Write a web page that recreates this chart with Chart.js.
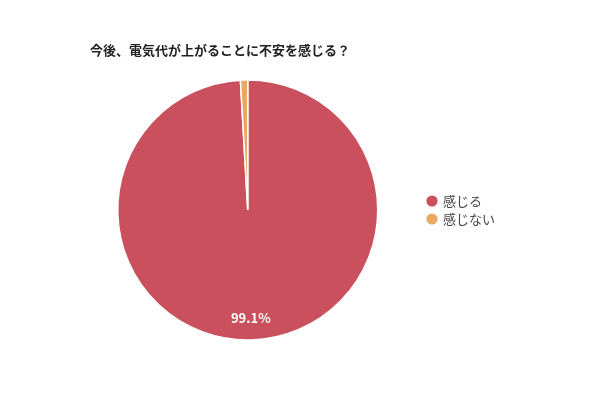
<!DOCTYPE html>
<html><head><meta charset="utf-8">
<script src="https://cdn.jsdelivr.net/npm/chart.js@4.4.1/dist/chart.umd.min.js"></script>
<style>html,body{margin:0;padding:0;background:#fff}#wrap{width:600px;height:400px;position:relative}</style>
</head><body><div id="wrap"><canvas id="c"></canvas></div>
<script>
const titleText = '今後、電気代が上がることに不安を感じる？';
const categories = ['感じる', '感じない'];
const values = [99.1, 0.9];
const colors = ['#c9505c', '#e9a964'];
const FONT = '"Noto Sans CJK JP", "Noto Sans", sans-serif';

const titlePlugin = {
  id: 'customTitle',
  afterDraw(chart) {
    const ctx = chart.ctx;
    ctx.save();
    ctx.font = 'bold 13px ' + FONT;
    ctx.fillStyle = '#222';
    ctx.textAlign = 'left';
    ctx.textBaseline = 'middle';
    ctx.fillText(titleText, 90, 50);
    ctx.restore();
  }
};

const labelPlugin = {
  id: 'sliceLabels',
  afterDatasetsDraw(chart) {
    const ctx = chart.ctx;
    const meta = chart.getDatasetMeta(0);
    const ds = chart.data.datasets[0];
    ctx.save();
    ctx.font = 'bold 13px ' + FONT;
    ctx.fillStyle = '#fff';
    ctx.textAlign = 'center';
    ctx.textBaseline = 'middle';
    meta.data.forEach((arc, i) => {
      const v = ds.data[i];
      if (v < 5) return;
      const p = arc.getProps(['x', 'y', 'startAngle', 'endAngle', 'outerRadius'], true);
      const mid = (p.startAngle + p.endAngle) / 2;
      const r = p.outerRadius * 0.83;
      ctx.fillText(v.toFixed(1) + '%', p.x + Math.cos(mid) * r, p.y + Math.sin(mid) * r);
    });
    ctx.restore();
  }
};

new Chart(document.getElementById('c'), {
  type: 'pie',
  data: {
    labels: categories,
    datasets: [{
      data: values,
      backgroundColor: colors,
      borderColor: '#fff',
      borderWidth: 1.5,
      radius: 130
    }]
  },
  options: {
    responsive: true,
    maintainAspectRatio: false,
    animation: false,
    layout: { padding: { left: 73, right: 95, top: 70, bottom: 50 } },
    plugins: {
      title: { display: false },
      tooltip: { enabled: false },
      legend: {
        position: 'right',
        align: 'center',
        labels: {
          usePointStyle: true,
          pointStyle: 'circle',
          boxWidth: 9,
          boxHeight: 9,
          padding: 5,
          color: '#444',
          font: { size: 13, family: FONT }
        }
      }
    }
  },
  plugins: [titlePlugin, labelPlugin]
});
</script>
</body></html>
